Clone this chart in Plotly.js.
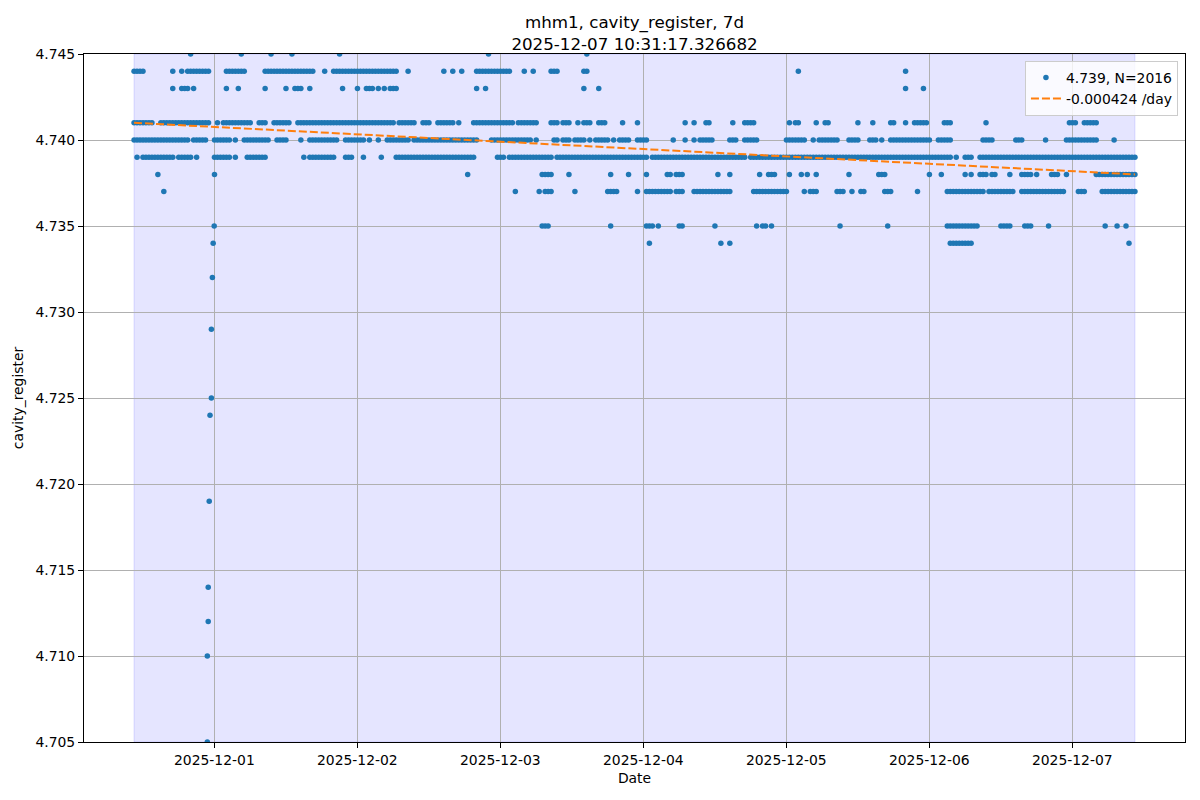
<!DOCTYPE html>
<html><head><meta charset="utf-8">
<script src="https://cdn.plot.ly/plotly-3.0.1.min.js"></script>
<style>html,body{margin:0;padding:0;background:#fff}</style>
</head><body><div id="chart" style="width:1200px;height:800px"></div>
<script>
// ---- data ----
const titleLines = ["mhm1, cavity_register, 7d", "2025-12-07 10:31:17.326682"];
const startTime = "2025-11-30T10:31:17Z";
const endTime = "2025-12-07T10:31:17Z";
const meanLabel = "4.739";
const sampleCount = 2016;
const slopeLabel = "-0.000424 /day";
const trendValues = [4.7410, 4.7380];
const xTickVals = ["2025-12-01","2025-12-02","2025-12-03","2025-12-04","2025-12-05","2025-12-06","2025-12-07"];
const yTickVals = [4.705,4.710,4.715,4.720,4.725,4.730,4.735,4.740,4.745];

// Levels of the register (quantised at 0.001)
const levels = [4.745, 4.744, 4.743, 4.741, 4.740, 4.739, 4.738, 4.737, 4.735, 4.734];
// Occupancy of each level per half-hour since start; one string per day, four 6-hour groups each
const lv745 = [
 "............ .......#.... ............ #.........#.",
 ".....#...... .........#.. ............ ............",
 "............ ...........# ............ ............",
 "........#... ............ ............ ............",
 "............ ............ ............ ............",
 "............ ............ ............ ............",
 "............ ............ ............ ............"];
const lv744 = [
 "####........ .#..#.###### ##.....##### ##......####",
 "############ #...#..##### ############ #####...#...",
 "........#..# ..#....##### #######....# ..#.....###.",
 ".......##... ............ ............ ............",
 "............ ............ .......#.... ............",
 "............ .......#.... ............ ............",
 "............ ............ ............ ............"];
const lv743 = [
 "............ .#..###.#... .......#...# ........#...",
 "...#..###..# ..........#. ...#..###.#. #.###.......",
 "............ .......#..#. ............ ............",
 ".......#.... #........... ............ ............",
 "............ ............ ............ ............",
 "............ .......#.... .#.......... ............",
 "............ ............ ............ ............"];
const lv741 = [
 "#######..### ############ ##..#.###### ####..###..#",
 "#####..##### ############ ############ ####.######.",
 ".###..###### .#....###### ########.### ####....###.",
 "###..#.###.. ###.....#... .#.......... .....#..#...",
 "##.......#.. .####....... ....#.##.... .#..##......",
 "...#....#... ..##...#..## ###.....###. ..........#.",
 "............ ............ ..###..##### ............"];
const lv740 = [
 "############ #######.#### #..######.#. .#########..",
 "####....#..# #########..# ######.#..#. .########.##",
 "############ ########.... ############ ##.#.....##.",
 "###.####.#.# ####.#.####. .####....... .#...#..#.##",
 "###.....###. .#####...... ...#######.. #.#######...",
 "####...###.# ..########## ####..#####. .........###",
 "#.......###. ......#..... .########### .....#......"];
const lv739 = [
 ".#.######### ##.#####.#.. ...######.#. ..#######...",
 ".........#.# ########...# ##...#.....# ....########",
 "############ #######..... ..###.###### #########.##",
 "############ ############ #####.###### ############",
 "############ ##.######### ############ ############",
 "############ ############ ###########. #..###..####",
 "############ ############ ############ #############"];
const lv738 = [
 "........#... ............ ...#........ ............",
 "............ ............ ............ ............",
 "............ ....#....... ............ .....####...",
 "..#......... ....#.....#. ....#......# #.###.......",
 "....#...#... ......#..### ....#...#.#. .#..........",
 "#.........## #........... ...#...#.... ...#.#..###.",
 "##....#...## ##.#....###. .#.........# #############"];
const lv737 = [
 "..........#. ............ ............ ............",
 "............ ............ ............ ............",
 "............ ............ ........#... ....#.###...",
 "....#....... ...####..... .#..######## #.###...####",
 "#########... ....######## ####.....#.# ##......###.",
 ".#..##...... ###........# .........### ##########.#",
 "########..## ############ #....###.... .############"];
const lv735 = [
 "............ ............ ............ ............",
 "............ ............ ............ ............",
 "............ ............ ............ .....###....",
 "............ ....#....... ....###.#... ...##.......",
 "...#........ .....#.##.#. ............ .........#..",
 "............ .#.......... .........### ########....",
 "...####....# ##.....#.... ............ ..#...#..#.."];
const lv734 = [
 "............ ............ ............ ............",
 "............ ............ ............ ............",
 "............ ............ ............ ............",
 "............ ............ .....#...... ............",
 ".....#..#... ............ ............ ............",
 "............ ............ ..........## ######......",
 "............ ............ ............ ..........#."];
const levelPatterns = [lv745, lv744, lv743, lv741, lv740, lv739, lv738, lv737, lv735, lv734];

// The sharp dip just before 2025-12-01 (hours since start, value)
const dipHours  = [12.30, 12.30, 12.45, 12.45, 12.62, 12.75, 12.98, 12.98, 13.15, 13.28, 13.45];
const dipValues = [4.705, 4.710, 4.712, 4.714, 4.719, 4.724, 4.725, 4.729, 4.732, 4.734, 4.735];

// ---- build traces ----
const startMs = Date.parse(startTime);
const endMs = Date.parse(endTime);
const HOUR = 3600000;
function fmt(ms){ return new Date(ms).toISOString().replace('T',' ').replace('Z',''); }

const xs = [], ys = [];
levelPatterns.forEach((days, li) => {
  days.forEach((dayStr, d) => {
    dayStr.trim().split(/\s+/).forEach((grp, i) => {
      const k = d*4 + i;
      for (let j = 0; j < grp.length; j++) {
        if (grp[j] === '#') { xs.push(fmt(startMs + (6*k + 0.5*j)*HOUR)); ys.push(levels[li]); }
      }
    });
  });
});
dipHours.forEach((h, i) => { xs.push(fmt(startMs + h*HOUR)); ys.push(dipValues[i]); });

const font = 'DejaVu Sans, sans-serif';
const fs = 13.9;
const traces = [
  { type:'scatter', mode:'markers', x: xs, y: ys, name: meanLabel + ', N=' + sampleCount,
    marker:{ color:'#1f77b4', size:5.5 }, cliponaxis:true },
  { type:'scatter', mode:'lines', x:[fmt(startMs), fmt(endMs)], y: trendValues, name: slopeLabel,
    line:{ color:'#ff7f0e', width:2, dash:'8px,3px' } }
];

const pad = 8.4*HOUR;
const layout = {
  width:1200, height:800, autosize:false,
  margin:{ l:84, r:15, t:54, b:58, pad:0 },
  paper_bgcolor:'white', plot_bgcolor:'white',
  font:{ family:font, size:fs, color:'black' },
  title:{ text: titleLines.join('<br>'), font:{ family:font, size:16.7, color:'black' },
          x:0.5, xref:'paper', xanchor:'center', y:1 - 28/800, yref:'container', yanchor:'top' },
  xaxis:{ type:'date', range:[fmt(startMs - pad), fmt(endMs + pad)], tickvals:xTickVals, tickformat:'%Y-%m-%d',
          ticks:'outside', ticklen:5, tickwidth:1, tickcolor:'black', showline:true, mirror:true,
          linecolor:'black', linewidth:1, showgrid:true, gridcolor:'#b0b0b0', gridwidth:1, zeroline:false,
          tickfont:{ family:font, size:fs, color:'black' },
          title:{ text:'Date', standoff:6, font:{ family:font, size:fs, color:'black' } } },
  yaxis:{ range:[4.705, 4.745], tickvals:yTickVals, tickformat:'.3f',
          ticks:'outside', ticklen:5, tickwidth:1, tickcolor:'black', showline:true, mirror:true,
          linecolor:'black', linewidth:1, showgrid:true, gridcolor:'#b0b0b0', gridwidth:1, zeroline:false,
          tickfont:{ family:font, size:fs, color:'black' },
          title:{ text:'cavity_register', standoff:8, font:{ family:font, size:fs, color:'black' } } },
  legend:{ x:0.9936, y:0.9898, xanchor:'right', yanchor:'top', bgcolor:'rgba(255,255,255,0.8)',
           bordercolor:'#cccccc', borderwidth:1, itemwidth:30, font:{ family:font, size:fs, color:'black' } },
  showlegend:true,
  shapes:[{ type:'rect', xref:'x', yref:'paper', x0:fmt(startMs), x1:fmt(endMs), y0:0, y1:1,
            fillcolor:'rgba(0,0,255,0.1)', line:{ width:1, color:'rgba(0,0,255,0.12)' }, layer:'below' }]
};
Plotly.newPlot('chart', traces, layout, { displayModeBar:false, staticPlot:true });
</script>
</body></html>
